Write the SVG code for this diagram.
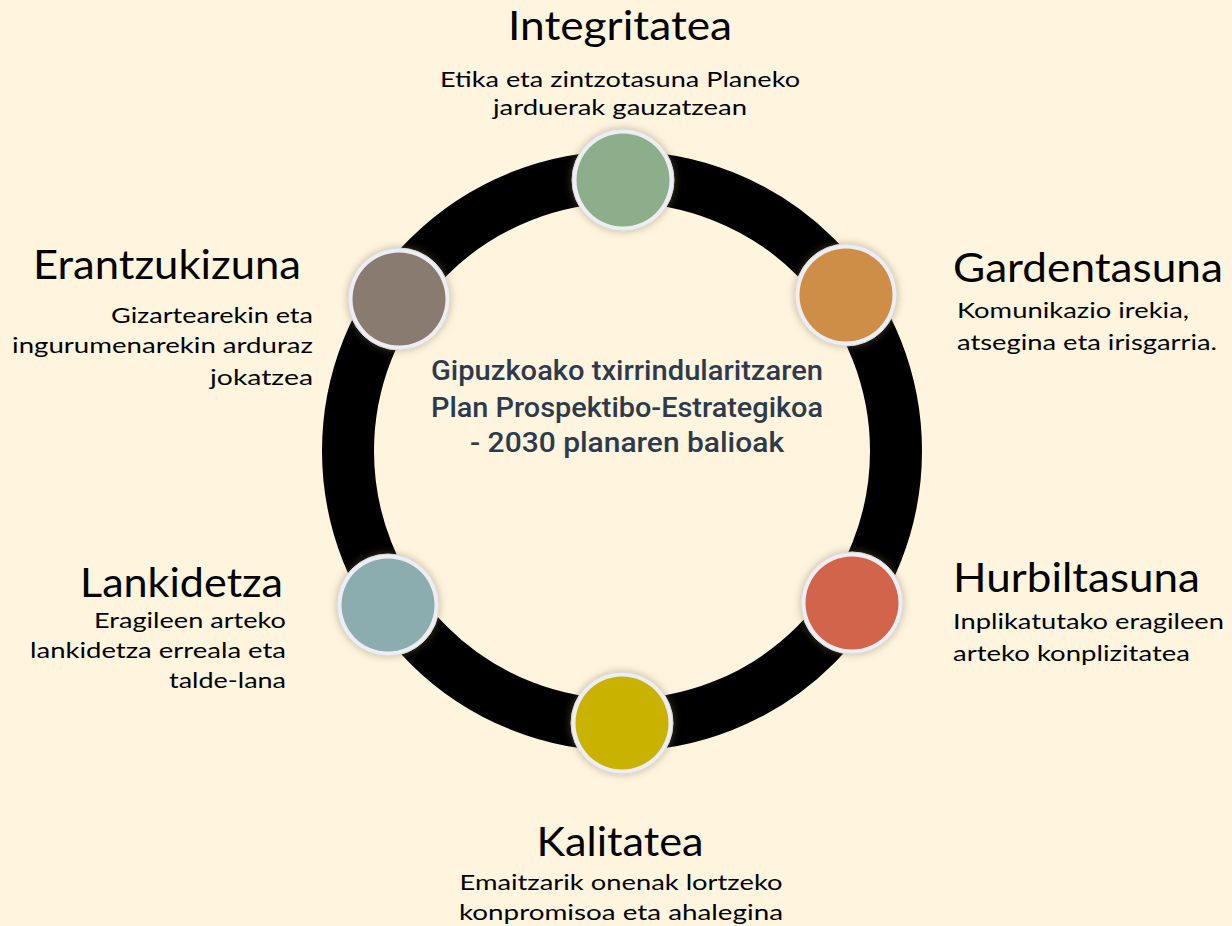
<svg xmlns="http://www.w3.org/2000/svg" width="1232" height="926" viewBox="0 0 1232 926">
<style>
.t{font-family:Lato,"Open Sans","Liberation Sans",sans-serif;fill:#000;font-size:40px}
.s{font-family:Lato,"Open Sans","Liberation Sans",sans-serif;fill:#000;font-size:22px}
.c{font-family:Roboto,"Liberation Sans",sans-serif;fill:#2E3A4C;font-size:28px;font-weight:500}
.rim{fill:#EEEEF2;stroke:#D8D8DE;stroke-width:1}
</style>
<defs>
<filter id="sh" x="-30%" y="-30%" width="160%" height="160%">
<feGaussianBlur in="SourceAlpha" stdDeviation="4" result="b"/>
<feFlood flood-color="#8C7A50" flood-opacity="0.5"/>
<feComposite operator="in" in2="b" result="s"/>
<feMerge><feMergeNode in="s"/><feMergeNode in="SourceGraphic"/></feMerge>
</filter>
</defs>
<rect width="1232" height="926" fill="#FFF5DF"/>
<g id="connectors">
<circle cx="622" cy="451" r="274" fill="none" stroke="#000" stroke-width="52"/>
</g>
<g id="center">
<text class="c" x="627" y="380" text-anchor="middle" textLength="392" lengthAdjust="spacingAndGlyphs">Gipuzkoako txirrindularitzaren</text>
<text class="c" x="627" y="417" text-anchor="middle" textLength="392" lengthAdjust="spacingAndGlyphs">Plan Prospektibo-Estrategikoa</text>
<text class="c" x="627" y="452" text-anchor="middle" textLength="314" lengthAdjust="spacingAndGlyphs">- 2030 planaren balioak</text>
</g>
<g id="integritatea">
<g filter="url(#sh)"><circle class="rim" cx="623" cy="180" r="51"/></g>
<circle cx="623" cy="180" r="46.5" fill="#8CAE8A"/>
<text class="t" x="620" y="40" text-anchor="middle" textLength="224" lengthAdjust="spacingAndGlyphs">Integritatea</text>
<text class="s" x="620" y="87" text-anchor="middle" textLength="360" lengthAdjust="spacingAndGlyphs">Etika eta zintzotasuna Planeko</text>
<text class="s" x="620" y="115" text-anchor="middle" textLength="254" lengthAdjust="spacingAndGlyphs">jarduerak gauzatzean</text>
</g>
<g id="gardentasuna">
<g filter="url(#sh)"><circle class="rim" cx="846" cy="295" r="51"/></g>
<circle cx="846" cy="295" r="46.5" fill="#CE8E47"/>
<text class="t" x="953" y="282" textLength="270" lengthAdjust="spacingAndGlyphs">Gardentasuna</text>
<text class="s" x="957" y="318" textLength="232" lengthAdjust="spacingAndGlyphs">Komunikazio irekia,</text>
<text class="s" x="957" y="350" textLength="260" lengthAdjust="spacingAndGlyphs">atsegina eta irisgarria.</text>
</g>
<g id="hurbiltasuna">
<g filter="url(#sh)"><circle class="rim" cx="852" cy="603" r="51"/></g>
<circle cx="852" cy="603" r="46.5" fill="#D2644B"/>
<text class="t" x="953" y="592" textLength="247" lengthAdjust="spacingAndGlyphs">Hurbiltasuna</text>
<text class="s" x="953" y="629" textLength="271" lengthAdjust="spacingAndGlyphs">Inplikatutako eragileen</text>
<text class="s" x="953" y="661" textLength="237" lengthAdjust="spacingAndGlyphs">arteko konplizitatea</text>
</g>
<g id="kalitatea">
<g filter="url(#sh)"><circle class="rim" cx="622" cy="723" r="51"/></g>
<circle cx="622" cy="723" r="46.5" fill="#CAB200"/>
<text class="t" x="620" y="856" text-anchor="middle" textLength="167" lengthAdjust="spacingAndGlyphs">Kalitatea</text>
<text class="s" x="621" y="890" text-anchor="middle" textLength="323" lengthAdjust="spacingAndGlyphs">Emaitzarik onenak lortzeko</text>
<text class="s" x="621" y="920" text-anchor="middle" textLength="324" lengthAdjust="spacingAndGlyphs">konpromisoa eta ahalegina</text>
</g>
<g id="lankidetza">
<g filter="url(#sh)"><circle class="rim" cx="388" cy="605" r="51"/></g>
<circle cx="388" cy="605" r="46.5" fill="#8CADAF"/>
<text class="t" x="283" y="597" text-anchor="end" textLength="203" lengthAdjust="spacingAndGlyphs">Lankidetza</text>
<text class="s" x="286" y="628" text-anchor="end" textLength="192" lengthAdjust="spacingAndGlyphs">Eragileen arteko</text>
<text class="s" x="286" y="658" text-anchor="end" textLength="256" lengthAdjust="spacingAndGlyphs">lankidetza erreala eta</text>
<text class="s" x="286" y="688" text-anchor="end" textLength="117" lengthAdjust="spacingAndGlyphs">talde-lana</text>
</g>
<g id="erantzukizuna">
<g filter="url(#sh)"><circle class="rim" cx="399" cy="299" r="51"/></g>
<circle cx="399" cy="299" r="46.5" fill="#8A7B71"/>
<text class="t" x="301" y="279" text-anchor="end" textLength="268" lengthAdjust="spacingAndGlyphs">Erantzukizuna</text>
<text class="s" x="313" y="323" text-anchor="end" textLength="202" lengthAdjust="spacingAndGlyphs">Gizartearekin eta</text>
<text class="s" x="313" y="353" text-anchor="end" textLength="301" lengthAdjust="spacingAndGlyphs">ingurumenarekin arduraz</text>
<text class="s" x="313" y="385" text-anchor="end" textLength="103" lengthAdjust="spacingAndGlyphs">jokatzea</text>
</g>
</svg>
